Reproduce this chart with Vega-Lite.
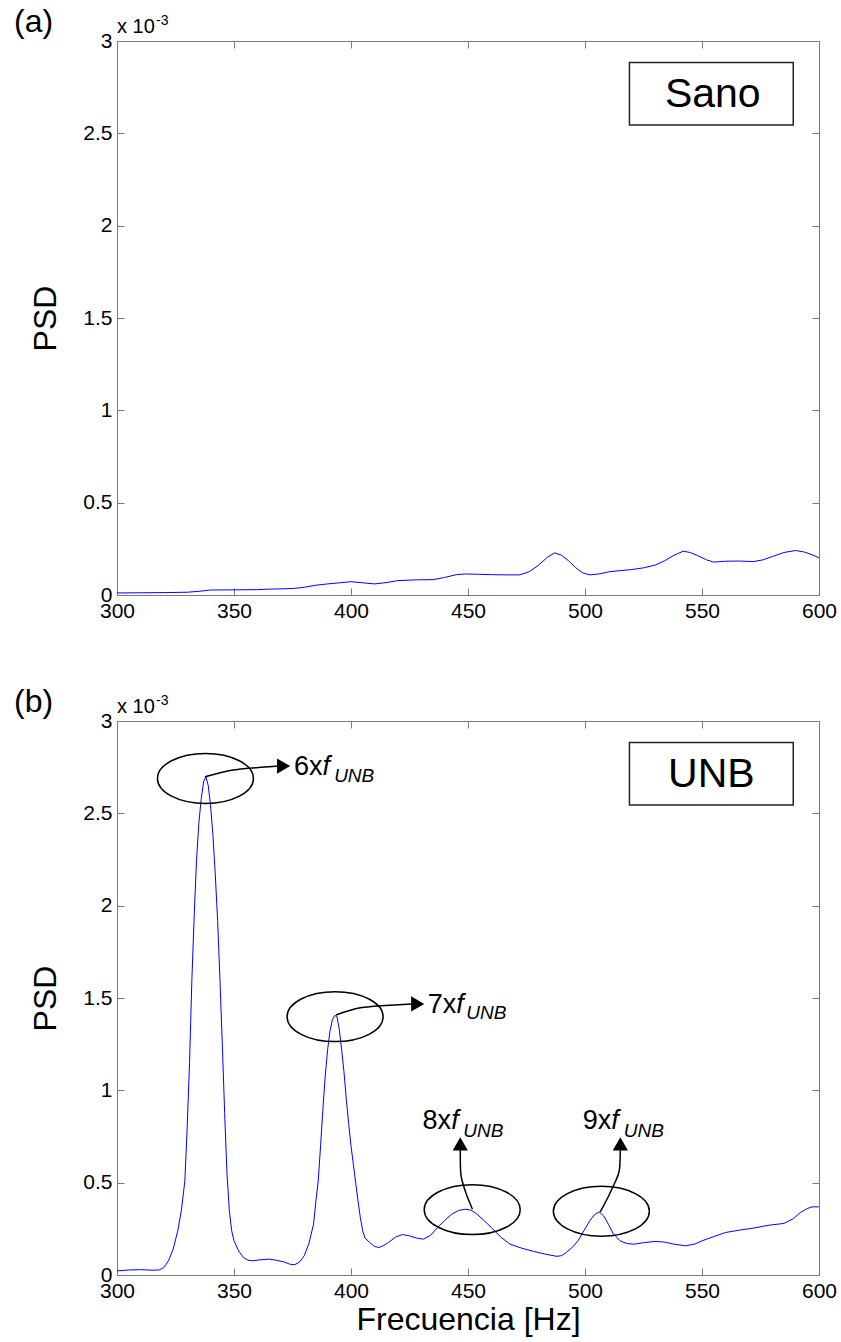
{
  "$schema": "https://vega.github.io/schema/vega-lite/v6.json",
  "padding": {"left": 13, "top": 5, "right": 5, "bottom": 3},
  "bounds": "flush",
  "spacing": 126,
  "config": {
    "font": "Liberation Sans",
    "view": {"stroke": "#7a7a7a", "strokeWidth": 1},
    "axis": {"labelFont": "Liberation Sans", "labelFontSize": 21, "labelColor": "#000", "tickColor": "#7a7a7a", "tickSize": -7, "domain": false, "grid": false, "titleFont": "Liberation Sans", "titleFontSize": 32, "titleFontWeight": "normal", "titleColor": "#000", "labelFlush": false, "labelOverlap": false}
  },
  "datasets": {
    "sano": [
      {"f":300,"p":0.011},{"f":310,"p":0.012},{"f":320,"p":0.013},{"f":330,"p":0.015},{"f":335,"p":0.020},{"f":340,"p":0.027},{"f":350,"p":0.028},{"f":360,"p":0.029},{"f":365,"p":0.032},{"f":370,"p":0.033},{"f":376,"p":0.036},{"f":380,"p":0.042},{"f":385,"p":0.053},{"f":390,"p":0.060},{"f":395,"p":0.066},{"f":400,"p":0.072},{"f":405,"p":0.066},{"f":410,"p":0.060},{"f":415,"p":0.067},{"f":420,"p":0.078},{"f":428,"p":0.082},{"f":435,"p":0.083},{"f":440,"p":0.095},{"f":445,"p":0.110},{"f":449,"p":0.114},{"f":455,"p":0.112},{"f":460,"p":0.110},{"f":466,"p":0.109},{"f":472,"p":0.109},{"f":476,"p":0.125},{"f":480,"p":0.160},{"f":484,"p":0.205},{"f":487,"p":0.228},{"f":490,"p":0.215},{"f":493,"p":0.185},{"f":496,"p":0.148},{"f":499,"p":0.120},{"f":502,"p":0.109},{"f":506,"p":0.114},{"f":510,"p":0.125},{"f":515,"p":0.132},{"f":520,"p":0.138},{"f":525,"p":0.147},{"f":530,"p":0.162},{"f":534,"p":0.185},{"f":538,"p":0.215},{"f":542,"p":0.237},{"f":545,"p":0.230},{"f":548,"p":0.214},{"f":552,"p":0.190},{"f":555,"p":0.178},{"f":560,"p":0.183},{"f":566,"p":0.184},{"f":572,"p":0.181},{"f":576,"p":0.190},{"f":580,"p":0.208},{"f":585,"p":0.230},{"f":590,"p":0.241},{"f":594,"p":0.232},{"f":597,"p":0.218},{"f":600,"p":0.201}
    ],
    "unb": [
      {"f":300,"p":0.022},{"f":305,"p":0.027},{"f":310,"p":0.029},{"f":315,"p":0.026},{"f":318,"p":0.027},{"f":320,"p":0.040},{"f":322,"p":0.077},{"f":324,"p":0.14},{"f":326,"p":0.24},{"f":327.5,"p":0.35},{"f":329,"p":0.51},{"f":330,"p":0.80},{"f":331,"p":1.15},{"f":332,"p":1.60},{"f":333,"p":1.95},{"f":334,"p":2.25},{"f":335,"p":2.45},{"f":336,"p":2.58},{"f":337,"p":2.67},{"f":338,"p":2.70},{"f":339,"p":2.65},{"f":340,"p":2.54},{"f":341,"p":2.38},{"f":342,"p":2.17},{"f":343,"p":1.92},{"f":344,"p":1.60},{"f":345,"p":1.25},{"f":346,"p":0.88},{"f":347,"p":0.55},{"f":348,"p":0.35},{"f":349,"p":0.24},{"f":350,"p":0.185},{"f":352,"p":0.13},{"f":354,"p":0.095},{"f":356,"p":0.080},{"f":358,"p":0.077},{"f":361,"p":0.082},{"f":365,"p":0.086},{"f":368,"p":0.080},{"f":371,"p":0.072},{"f":374,"p":0.058},{"f":376,"p":0.056},{"f":378,"p":0.070},{"f":380,"p":0.104},{"f":382,"p":0.17},{"f":384,"p":0.275},{"f":385,"p":0.40},{"f":386,"p":0.51},{"f":387,"p":0.70},{"f":388,"p":0.90},{"f":389,"p":1.08},{"f":390,"p":1.22},{"f":391,"p":1.32},{"f":392,"p":1.38},{"f":393,"p":1.405},{"f":394,"p":1.40},{"f":395,"p":1.33},{"f":396,"p":1.22},{"f":397,"p":1.10},{"f":398,"p":0.95},{"f":399,"p":0.82},{"f":400,"p":0.70},{"f":401,"p":0.60},{"f":402,"p":0.50},{"f":403,"p":0.40},{"f":404,"p":0.31},{"f":405,"p":0.24},{"f":406,"p":0.20},{"f":408,"p":0.176},{"f":410,"p":0.155},{"f":412,"p":0.149},{"f":414,"p":0.16},{"f":416,"p":0.176},{"f":419,"p":0.205},{"f":422,"p":0.219},{"f":425,"p":0.212},{"f":428,"p":0.200},{"f":431,"p":0.194},{"f":434,"p":0.215},{"f":437,"p":0.257},{"f":440,"p":0.295},{"f":443,"p":0.329},{"f":446,"p":0.350},{"f":449,"p":0.356},{"f":451,"p":0.352},{"f":453,"p":0.338},{"f":456,"p":0.305},{"f":460,"p":0.257},{"f":464,"p":0.205},{"f":468,"p":0.167},{"f":473,"p":0.145},{"f":478,"p":0.128},{"f":483,"p":0.113},{"f":488,"p":0.101},{"f":490,"p":0.105},{"f":492,"p":0.122},{"f":495,"p":0.155},{"f":497,"p":0.185},{"f":500,"p":0.25},{"f":502,"p":0.293},{"f":504,"p":0.325},{"f":506,"p":0.342},{"f":508,"p":0.320},{"f":510,"p":0.275},{"f":512,"p":0.225},{"f":515,"p":0.185},{"f":518,"p":0.170},{"f":521,"p":0.167},{"f":525,"p":0.175},{"f":530,"p":0.182},{"f":534,"p":0.178},{"f":538,"p":0.167},{"f":543,"p":0.158},{"f":547,"p":0.168},{"f":550,"p":0.185},{"f":555,"p":0.208},{"f":560,"p":0.230},{"f":566,"p":0.243},{"f":572,"p":0.254},{"f":577,"p":0.266},{"f":580,"p":0.272},{"f":585,"p":0.279},{"f":589,"p":0.305},{"f":592,"p":0.338},{"f":595,"p":0.360},{"f":597,"p":0.369},{"f":600,"p":0.369}
    ],
    "ell": [{"f":337.8,"p":2.689},{"f":393.2,"p":1.399},{"f":451.8,"p":0.354},{"f":507,"p":0.345}],
    "arrows": [
      {"id":6,"o":0,"f":337.6,"p":2.698},{"id":6,"o":1,"f":349.6,"p":2.735},{"id":6,"o":2,"f":361.5,"p":2.749},{"id":6,"o":3,"f":369,"p":2.756},
      {"id":7,"o":0,"f":393.6,"p":1.408},{"id":7,"o":1,"f":402.9,"p":1.444},{"id":7,"o":2,"f":412.8,"p":1.458},{"id":7,"o":3,"f":426,"p":1.468},
      {"id":8,"o":0,"f":451.9,"p":0.356},{"id":8,"o":1,"f":449.5,"p":0.43},{"id":8,"o":2,"f":447.5,"p":0.509},{"id":8,"o":3,"f":446.8,"p":0.569},{"id":8,"o":4,"f":446.7,"p":0.675},
      {"id":9,"o":0,"f":506.5,"p":0.342},{"id":9,"o":1,"f":510.1,"p":0.428},{"id":9,"o":2,"f":513.1,"p":0.509},{"id":9,"o":3,"f":514.7,"p":0.569},{"id":9,"o":4,"f":515.1,"p":0.675}
    ],
    "heads": [
      {"f":371.2,"p":2.756,"shape":"triangle-right"},{"f":428.5,"p":1.468,"shape":"triangle-right"},{"f":446.7,"p":0.710,"shape":"triangle-up"},{"f":515.1,"p":0.710,"shape":"triangle-up"}
    ],
    "labels": [
      {"k":"n","t":"6x","f":375.6,"p":2.708},{"k":"i","t":"f","f":387.8,"p":2.708},{"k":"s","t":"UNB","f":392.8,"p":2.670},
      {"k":"n","t":"7x","f":432.8,"p":1.419},{"k":"i","t":"f","f":445.0,"p":1.419},{"k":"s","t":"UNB","f":449.3,"p":1.386},
      {"k":"n","t":"8x","f":430.6,"p":0.791},{"k":"i","t":"f","f":442.8,"p":0.791},{"k":"s","t":"UNB","f":448.0,"p":0.747},
      {"k":"n","t":"9x","f":499.0,"p":0.791},{"k":"i","t":"f","f":511.2,"p":0.791},{"k":"s","t":"UNB","f":516.6,"p":0.747}
    ]
  },
  "vconcat": [
    {
      "width": 702, "height": 554,
      "resolve": {"axis": {"x": "independent", "y": "independent"}},
      "layer": [
        {"data": {"name": "sano"}, "mark": {"type": "line", "color": "#0000ff", "strokeWidth": 1},
         "encoding": {
           "x": {"field": "f", "type": "quantitative", "scale": {"domain": [300, 600], "nice": false, "zero": false}, "axis": {"values": [300,350,400,450,500,550,600], "format": "d", "title": null, "labelPadding": 12}},
           "y": {"field": "p", "type": "quantitative", "scale": {"domain": [0, 3], "nice": false, "zero": false}, "axis": {"values": [0,0.5,1,1.5,2,2.5,3], "format": "~g", "title": "PSD", "titlePadding": 20, "labelPadding": 12}}
         }},
        {"data": {"values": [{"x1": 519, "x2": 589, "y1": 2.884, "y2": 2.545}]}, "mark": {"type": "rect", "fill": "white", "stroke": "#222", "strokeWidth": 1.5},
         "encoding": {
           "x": {"field": "x1", "type": "quantitative", "scale": {"domain": [300, 600], "nice": false, "zero": false}, "axis": {"orient": "top", "labels": false, "title": null, "values": [300,350,400,450,500,550,600]}},
           "x2": {"field": "x2"},
           "y": {"field": "y1", "type": "quantitative", "scale": {"domain": [0, 3], "nice": false, "zero": false}, "axis": {"orient": "right", "labels": false, "title": null, "values": [0,0.5,1,1.5,2,2.5,3]}},
           "y2": {"field": "y2"}
         }},
        {"data": {"values": [{"f": 554.6, "p": 2.645, "t": "Sano"}]}, "mark": {"type": "text", "fontSize": 41, "align": "center", "baseline": "alphabetic", "color": "#000"},
         "encoding": {
           "x": {"field": "f", "type": "quantitative", "scale": {"domain": [300, 600], "nice": false, "zero": false}, "axis": null},
           "y": {"field": "p", "type": "quantitative", "scale": {"domain": [0, 3], "nice": false, "zero": false}, "axis": null},
           "text": {"field": "t"}
         }},
        {"data": {"values": [{"f": 300, "p": 3, "t": "x 10"}]}, "mark": {"type": "text", "fontSize": 20, "align": "left", "baseline": "alphabetic", "dy": -8, "color": "#000"},
         "encoding": {
           "x": {"field": "f", "type": "quantitative", "scale": {"domain": [300, 600], "nice": false, "zero": false}, "axis": null},
           "y": {"field": "p", "type": "quantitative", "scale": {"domain": [0, 3], "nice": false, "zero": false}, "axis": null},
           "text": {"field": "t"}
         }},
        {"data": {"values": [{"f": 300, "p": 3, "t": "-3"}]}, "mark": {"type": "text", "fontSize": 14, "align": "left", "baseline": "alphabetic", "dx": 39, "dy": -16, "color": "#000"},
         "encoding": {
           "x": {"field": "f", "type": "quantitative", "scale": {"domain": [300, 600], "nice": false, "zero": false}, "axis": null},
           "y": {"field": "p", "type": "quantitative", "scale": {"domain": [0, 3], "nice": false, "zero": false}, "axis": null},
           "text": {"field": "t"}
         }},
        {"data": {"values": [{"f": 300, "p": 3, "t": "(a)"}]}, "mark": {"type": "text", "fontSize": 32, "align": "left", "baseline": "alphabetic", "dx": -103, "dy": -9, "color": "#000"},
         "encoding": {
           "x": {"field": "f", "type": "quantitative", "scale": {"domain": [300, 600], "nice": false, "zero": false}, "axis": null},
           "y": {"field": "p", "type": "quantitative", "scale": {"domain": [0, 3], "nice": false, "zero": false}, "axis": null},
           "text": {"field": "t"}
         }}
      ]
    },
    {
      "width": 702, "height": 554,
      "resolve": {"axis": {"x": "independent", "y": "independent"}},
      "layer": [
        {"data": {"name": "unb"}, "mark": {"type": "line", "color": "#0000ff", "strokeWidth": 1},
         "encoding": {
           "x": {"field": "f", "type": "quantitative", "scale": {"domain": [300, 600], "nice": false, "zero": false}, "axis": {"values": [300,350,400,450,500,550,600], "format": "d", "title": "Frecuencia [Hz]", "titlePadding": 3, "labelPadding": 12}},
           "y": {"field": "p", "type": "quantitative", "scale": {"domain": [0, 3], "nice": false, "zero": false}, "axis": {"values": [0,0.5,1,1.5,2,2.5,3], "format": "~g", "title": "PSD", "titlePadding": 20, "labelPadding": 12}}
         }},
        {"data": {"values": [{"x1": 519, "x2": 589, "y1": 2.884, "y2": 2.545}]}, "mark": {"type": "rect", "fill": "white", "stroke": "#222", "strokeWidth": 1.5},
         "encoding": {
           "x": {"field": "x1", "type": "quantitative", "scale": {"domain": [300, 600], "nice": false, "zero": false}, "axis": {"orient": "top", "labels": false, "title": null, "values": [300,350,400,450,500,550,600]}},
           "x2": {"field": "x2"},
           "y": {"field": "y1", "type": "quantitative", "scale": {"domain": [0, 3], "nice": false, "zero": false}, "axis": {"orient": "right", "labels": false, "title": null, "values": [0,0.5,1,1.5,2,2.5,3]}},
           "y2": {"field": "y2"}
         }},
        {"data": {"values": [{"f": 554, "p": 2.645, "t": "UNB"}]}, "mark": {"type": "text", "fontSize": 41, "align": "center", "baseline": "alphabetic", "color": "#000"},
         "encoding": {
           "x": {"field": "f", "type": "quantitative", "scale": {"domain": [300, 600], "nice": false, "zero": false}, "axis": null},
           "y": {"field": "p", "type": "quantitative", "scale": {"domain": [0, 3], "nice": false, "zero": false}, "axis": null},
           "text": {"field": "t"}
         }},
        {"data": {"name": "ell"}, "mark": {"type": "point", "shape": "M-1,0C-1,-0.287,-0.552,-0.52,0,-0.52C0.552,-0.52,1,-0.287,1,0C1,0.287,0.552,0.52,0,0.52C-0.552,0.52,-1,0.287,-1,0Z", "size": 9216, "filled": false, "color": "#000", "strokeWidth": 1.5, "opacity": 1},
         "encoding": {
           "x": {"field": "f", "type": "quantitative", "scale": {"domain": [300, 600], "nice": false, "zero": false}, "axis": null},
           "y": {"field": "p", "type": "quantitative", "scale": {"domain": [0, 3], "nice": false, "zero": false}, "axis": null}
         }},
        {"data": {"name": "arrows"}, "mark": {"type": "line", "color": "#000", "strokeWidth": 1.5, "interpolate": "natural"},
         "encoding": {
           "x": {"field": "f", "type": "quantitative", "scale": {"domain": [300, 600], "nice": false, "zero": false}, "axis": null},
           "y": {"field": "p", "type": "quantitative", "scale": {"domain": [0, 3], "nice": false, "zero": false}, "axis": null},
           "detail": {"field": "id", "type": "nominal"},
           "order": {"field": "o", "type": "quantitative"}
         }},
        {"data": {"name": "heads"}, "mark": {"type": "point", "filled": true, "color": "#000", "size": 230, "opacity": 1},
         "encoding": {
           "x": {"field": "f", "type": "quantitative", "scale": {"domain": [300, 600], "nice": false, "zero": false}, "axis": null},
           "y": {"field": "p", "type": "quantitative", "scale": {"domain": [0, 3], "nice": false, "zero": false}, "axis": null},
           "shape": {"field": "shape", "type": "nominal", "scale": null}
         }},
        {"data": {"name": "labels"}, "transform": [{"filter": "datum.k === 'n'"}], "mark": {"type": "text", "fontSize": 27, "align": "left", "baseline": "alphabetic", "color": "#000"},
         "encoding": {
           "x": {"field": "f", "type": "quantitative", "scale": {"domain": [300, 600], "nice": false, "zero": false}, "axis": null},
           "y": {"field": "p", "type": "quantitative", "scale": {"domain": [0, 3], "nice": false, "zero": false}, "axis": null},
           "text": {"field": "t"}
         }},
        {"data": {"name": "labels"}, "transform": [{"filter": "datum.k === 'i'"}], "mark": {"type": "text", "fontSize": 27, "fontStyle": "italic", "align": "left", "baseline": "alphabetic", "color": "#000"},
         "encoding": {
           "x": {"field": "f", "type": "quantitative", "scale": {"domain": [300, 600], "nice": false, "zero": false}, "axis": null},
           "y": {"field": "p", "type": "quantitative", "scale": {"domain": [0, 3], "nice": false, "zero": false}, "axis": null},
           "text": {"field": "t"}
         }},
        {"data": {"name": "labels"}, "transform": [{"filter": "datum.k === 's'"}], "mark": {"type": "text", "fontSize": 19, "fontStyle": "italic", "align": "left", "baseline": "alphabetic", "color": "#000"},
         "encoding": {
           "x": {"field": "f", "type": "quantitative", "scale": {"domain": [300, 600], "nice": false, "zero": false}, "axis": null},
           "y": {"field": "p", "type": "quantitative", "scale": {"domain": [0, 3], "nice": false, "zero": false}, "axis": null},
           "text": {"field": "t"}
         }},
        {"data": {"values": [{"f": 300, "p": 3, "t": "x 10"}]}, "mark": {"type": "text", "fontSize": 20, "align": "left", "baseline": "alphabetic", "dy": -8, "color": "#000"},
         "encoding": {
           "x": {"field": "f", "type": "quantitative", "scale": {"domain": [300, 600], "nice": false, "zero": false}, "axis": null},
           "y": {"field": "p", "type": "quantitative", "scale": {"domain": [0, 3], "nice": false, "zero": false}, "axis": null},
           "text": {"field": "t"}
         }},
        {"data": {"values": [{"f": 300, "p": 3, "t": "-3"}]}, "mark": {"type": "text", "fontSize": 14, "align": "left", "baseline": "alphabetic", "dx": 39, "dy": -16, "color": "#000"},
         "encoding": {
           "x": {"field": "f", "type": "quantitative", "scale": {"domain": [300, 600], "nice": false, "zero": false}, "axis": null},
           "y": {"field": "p", "type": "quantitative", "scale": {"domain": [0, 3], "nice": false, "zero": false}, "axis": null},
           "text": {"field": "t"}
         }},
        {"data": {"values": [{"f": 300, "p": 3, "t": "(b)"}]}, "mark": {"type": "text", "fontSize": 32, "align": "left", "baseline": "alphabetic", "dx": -103, "dy": -9, "color": "#000"},
         "encoding": {
           "x": {"field": "f", "type": "quantitative", "scale": {"domain": [300, 600], "nice": false, "zero": false}, "axis": null},
           "y": {"field": "p", "type": "quantitative", "scale": {"domain": [0, 3], "nice": false, "zero": false}, "axis": null},
           "text": {"field": "t"}
         }}
      ]
    }
  ]
}
